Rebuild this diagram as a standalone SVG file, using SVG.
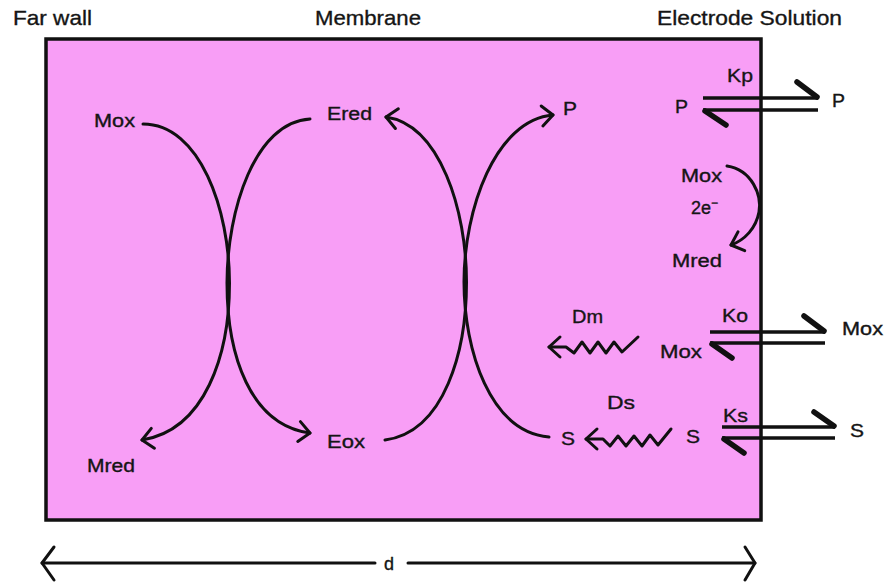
<svg xmlns="http://www.w3.org/2000/svg" width="893" height="583" viewBox="0 0 893 583">
<style>
text{font-family:"Liberation Sans",Arial,sans-serif;fill:#151515;stroke:#151515;stroke-width:0.35}
.hd{font-size:21px}
.lb{font-size:18px}
.ln{fill:none;stroke:#111;stroke-width:3;stroke-linecap:round;stroke-linejoin:round}
.eq{fill:none;stroke:#111;stroke-width:3.5}
.barb{fill:none;stroke:#111;stroke-width:5.5;stroke-linecap:round}
</style>
<defs>
<marker id="ah" markerUnits="userSpaceOnUse" viewBox="-14 -12 16 24" refX="0" refY="0" markerWidth="16" markerHeight="24" orient="auto" overflow="visible">
<path d="M-11,-10 L0,0 L-11,10" fill="none" stroke="#111" stroke-width="3" stroke-linecap="round" stroke-linejoin="round"/>
</marker>
</defs>
<g id="chamber">
<rect x="46" y="39" width="715" height="481" fill="#f89ef6" stroke="#111" stroke-width="3.5"/>
</g>
<g id="headers">
<text class="hd" x="13" y="25" textLength="79" lengthAdjust="spacingAndGlyphs">Far wall</text>
<text class="hd" x="315" y="25" textLength="106" lengthAdjust="spacingAndGlyphs">Membrane</text>
<text class="hd" x="657" y="25" textLength="185" lengthAdjust="spacingAndGlyphs">Electrode Solution</text>
</g>
<g id="connectors">
<path class="ln" d="M143,124 C200,124 229.5,210 229.5,283 C229.5,355 205,430 142,440" marker-end="url(#ah)"/>
<path class="ln" d="M310,119 C255,122 227,210 227,283 C227,355 250,425 310,433" marker-end="url(#ah)"/>
<path class="ln" d="M385,440 C445,432 466.5,350 466.5,282 C466.5,210 440,125 386,117" marker-end="url(#ah)"/>
<path class="ln" d="M549,437 C490,432 464,350 464,282 C464,210 495,120 553,115" marker-end="url(#ah)"/>
<path class="ln" d="M727,166 C752,170 762,195 759,212 C756,228 745,240 731,245" marker-end="url(#ah)"/>
<path class="ln" d="M638,337 L622,352 L614,342 L606,353 L598,342 L590,353 L582,342 L574,353 L566,347 L549,347" marker-end="url(#ah)"/>
<path class="ln" d="M671,429 L658,445 L650,435 L642,446 L634,436 L626,446 L618,436 L610,446 L603,439 L586,439" marker-end="url(#ah)"/>
<g id="eq-p">
<line class="eq" x1="703" y1="98" x2="818" y2="98"/>
<line class="eq" x1="703" y1="110" x2="818" y2="110"/>
<line class="barb" x1="797" y1="82" x2="817" y2="97"/>
<line class="barb" x1="705" y1="111" x2="726" y2="125"/>
</g>
<g id="eq-mox">
<line class="eq" x1="710" y1="332" x2="825" y2="332"/>
<line class="eq" x1="710" y1="343" x2="825" y2="343"/>
<line class="barb" x1="804" y1="316" x2="824" y2="331"/>
<line class="barb" x1="712" y1="344" x2="732" y2="358"/>
</g>
<g id="eq-s">
<line class="eq" x1="722" y1="427" x2="835" y2="427"/>
<line class="eq" x1="722" y1="438" x2="835" y2="438"/>
<line class="barb" x1="814" y1="412" x2="834" y2="426"/>
<line class="barb" x1="724" y1="439" x2="744" y2="453"/>
</g>
<g id="d-arrow">
<path class="ln" d="M42,563 L375,563 M408,563 L755,563"/>
<path class="ln" d="M54,547 L42,563 L54,580"/>
<path class="ln" d="M745,547 L755,563 L745,580"/>
</g>
</g>
<g id="n-mox-l"><text class="lb" x="94" y="127" textLength="41" lengthAdjust="spacingAndGlyphs">Mox</text></g>
<g id="n-mred-l"><text class="lb" x="87" y="472" textLength="48" lengthAdjust="spacingAndGlyphs">Mred</text></g>
<g id="n-ered"><text class="lb" x="327" y="120" textLength="45" lengthAdjust="spacingAndGlyphs">Ered</text></g>
<g id="n-eox"><text class="lb" x="327" y="448" textLength="38" lengthAdjust="spacingAndGlyphs">Eox</text></g>
<g id="n-p-mid"><text class="lb" x="563" y="115" textLength="14" lengthAdjust="spacingAndGlyphs">P</text></g>
<g id="n-s-mid"><text class="lb" x="561" y="445" textLength="14" lengthAdjust="spacingAndGlyphs">S</text></g>
<g id="n-p-in"><text class="lb" x="675" y="113" textLength="13" lengthAdjust="spacingAndGlyphs">P</text></g>
<g id="n-kp"><text class="lb" x="727" y="82" textLength="26" lengthAdjust="spacingAndGlyphs">Kp</text></g>
<g id="n-p-out"><text class="lb" x="832" y="107" textLength="13" lengthAdjust="spacingAndGlyphs">P</text></g>
<g id="n-mox-e"><text class="lb" x="681" y="182" textLength="41" lengthAdjust="spacingAndGlyphs">Mox</text></g>
<g id="n-2e"><text class="lb" x="691" y="214">2e<tspan font-size="12" dy="-7">−</tspan></text></g>
<g id="n-mred-e"><text class="lb" x="672" y="267" textLength="50" lengthAdjust="spacingAndGlyphs">Mred</text></g>
<g id="n-dm"><text class="lb" x="572" y="323" textLength="31" lengthAdjust="spacingAndGlyphs">Dm</text></g>
<g id="n-mox-in"><text class="lb" x="660" y="358" textLength="42" lengthAdjust="spacingAndGlyphs">Mox</text></g>
<g id="n-ko"><text class="lb" x="722" y="322" textLength="26" lengthAdjust="spacingAndGlyphs">Ko</text></g>
<g id="n-mox-out"><text class="lb" x="842" y="335" textLength="41" lengthAdjust="spacingAndGlyphs">Mox</text></g>
<g id="n-ds"><text class="lb" x="607" y="409" textLength="28" lengthAdjust="spacingAndGlyphs">Ds</text></g>
<g id="n-s-in"><text class="lb" x="686" y="443" textLength="14" lengthAdjust="spacingAndGlyphs">S</text></g>
<g id="n-ks"><text class="lb" x="723" y="422" textLength="25" lengthAdjust="spacingAndGlyphs">Ks</text></g>
<g id="n-s-out"><text class="lb" x="850" y="437" textLength="14" lengthAdjust="spacingAndGlyphs">S</text></g>
<g id="n-d"><text class="lb" x="384" y="570">d</text></g>
</svg>
